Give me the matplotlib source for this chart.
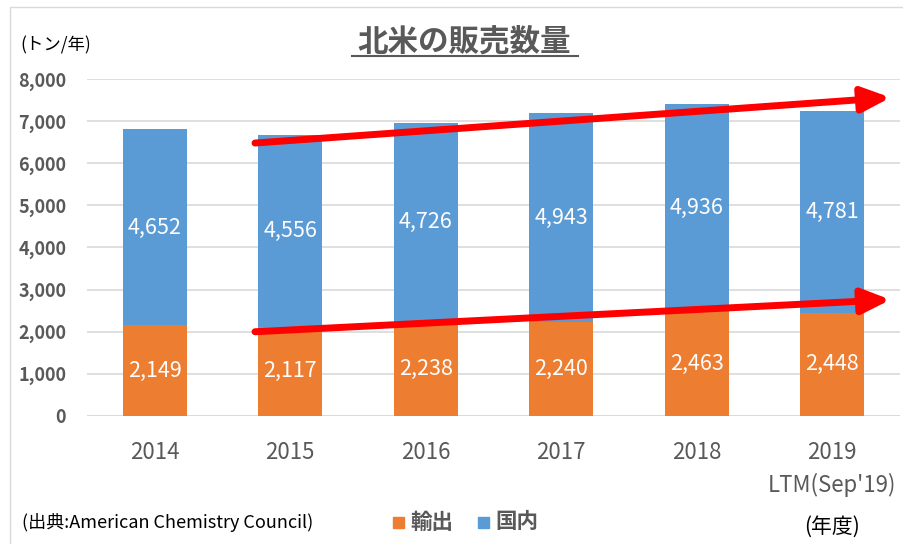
import matplotlib.pyplot as plt
from matplotlib.patches import Rectangle
from matplotlib.lines import Line2D

plt.rcParams['font.family'] = ['Noto Sans CJK JP', 'DejaVu Sans']

# データ
years = ["2014", "2015", "2016", "2017", "2018", "2019\nLTM(Sep'19)"]
export = [2149, 2117, 2238, 2240, 2463, 2448]
domestic = [4652, 4556, 4726, 4943, 4936, 4781]

# 傾向を示す矢印 (x位置, 始点y, 終点y)
arrow_x = [0.74, 5.43]
arrow_upper = [6480, 7560]
arrow_lower = [2000, 2760]

orange = "#ED7D31"
blue = "#5B9BD5"
gray = "#595959"

fig = plt.figure(figsize=(9.04, 5.44), dpi=100)
ax = fig.add_axes([0.0962, 0.2353, 0.8994, 0.6195])

x = list(range(len(years)))
ax.bar(x, export, width=0.47, color=orange, zorder=2)
ax.bar(x, domestic, width=0.47, bottom=export, color=blue, zorder=2)

for i in x:
    ax.text(i, export[i] / 2, f"{export[i]:,}", ha="center", va="center",
            color="white", fontsize=15.5)
    ax.text(i, export[i] + domestic[i] / 2, f"{domestic[i]:,}", ha="center",
            va="center", color="white", fontsize=15.5)

ax.set_xlim(-0.5, 5.5)
ax.set_ylim(0, 8000)
ax.set_yticks(range(0, 8001, 1000))
ax.set_yticklabels([f"{v:,}" for v in range(0, 8001, 1000)],
                   fontsize=13, fontweight="bold", color=gray)
ax.set_xticks(x)
ax.set_xticklabels(years, fontsize=16, color=gray, linespacing=1.45)
ax.tick_params(length=0)
ax.tick_params(axis="x", pad=18)
ax.tick_params(axis="y", pad=15)
ax.grid(axis="y", color="#D9D9D9", linewidth=1.2, zorder=0)
for s in ax.spines.values():
    s.set_visible(False)
ax.axhline(0, color="#D9D9D9", linewidth=1.2, zorder=1)

# 赤い矢印
for ys in (arrow_upper, arrow_lower):
    ax.annotate("", xy=(arrow_x[1], ys[1]), xytext=(arrow_x[0], ys[0]),
                arrowprops=dict(arrowstyle="-|>,head_length=1.7,head_width=0.75",
                                color="#FF0000", lw=5, shrinkA=0, shrinkB=0),
                annotation_clip=False, zorder=5)

# 枠線
fig.patches.append(Rectangle((10 / 904, -0.01), 1.0, 1 - 7 / 544 + 0.01,
                             transform=fig.transFigure, fill=False,
                             edgecolor="#D9D9D9", linewidth=1))

# タイトル（下線付き）
fig.text(0.513, 0.924, "北米の販売数量", ha="center", va="center",
         fontsize=22, fontweight="bold", color=gray)
fig.lines.append(Line2D([352 / 904, 578 / 904], [1 - 56 / 544] * 2,
                        transform=fig.transFigure, color=gray, linewidth=1.5))

fig.text(20 / 904, 1 - 45 / 544, "(トン/年)", ha="left", va="center",
         fontsize=12.5, color="black")
fig.text(22 / 904, 1 - 522 / 544, "(出典:American Chemistry Council)",
         ha="left", va="center", fontsize=13, color="black")
fig.text(804 / 904, 1 - 527 / 544, "(年度)", ha="left", va="center",
         fontsize=15, color="black")

# 凡例
fig.patches.append(Rectangle((393 / 904, 1 - 528 / 544), 11 / 904, 11 / 544,
                             transform=fig.transFigure, color=orange))
fig.text(410 / 904, 1 - 522 / 544, "輸出", ha="left", va="center",
         fontsize=15.5, fontweight="bold", color=gray)
fig.patches.append(Rectangle((478 / 904, 1 - 528 / 544), 11 / 904, 11 / 544,
                             transform=fig.transFigure, color=blue))
fig.text(495 / 904, 1 - 522 / 544, "国内", ha="left", va="center",
         fontsize=15.5, fontweight="bold", color=gray)

fig.savefig("out.png", dpi=100)
